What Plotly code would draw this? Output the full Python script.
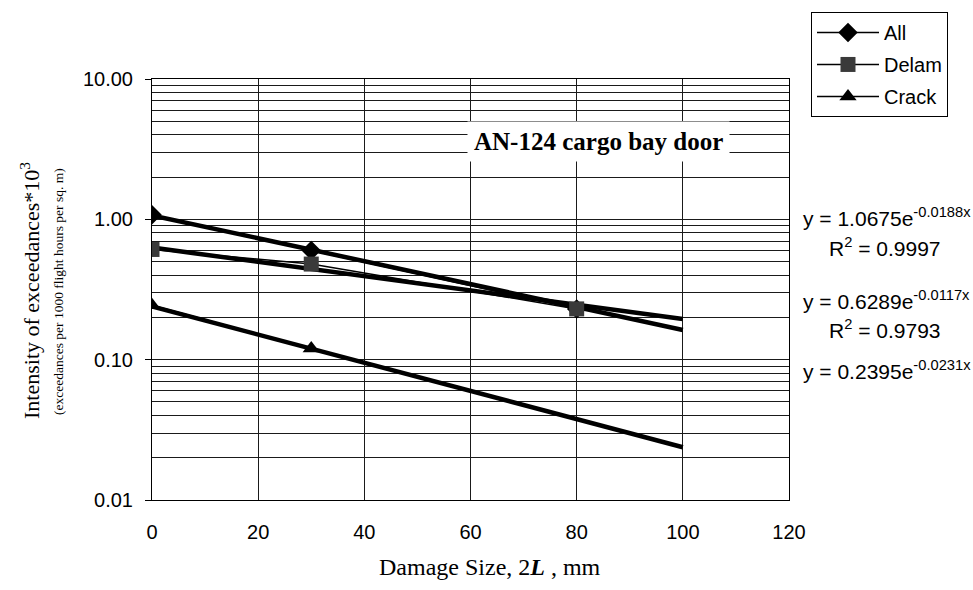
import numpy as np
import plotly.graph_objects as go

# ---- data ----
series_names = ["All", "Delam", "Crack"]
all_x = [0, 30, 80]
all_y = [1.08, 0.60, 0.23]
delam_x = [0, 30, 80]
delam_y = [0.61, 0.48, 0.23]
crack_x = [0, 30]
crack_y = [0.244, 0.12]

# exponential trendline coefficients y = a*exp(b*x), shown on the chart
trend_a = [1.0675, 0.6289, 0.2395]
trend_b = [-0.0188, -0.0117, -0.0231]
trend_r2 = ["0.9997", "0.9793", None]
trend_xmax = 100

x_ticks = [0, 20, 40, 60, 80, 100, 120]
y_ticks = [0.01, 0.1, 1, 10]
y_ticktext = ["0.01", "0.10", "1.00", "10.00"]

# ---- layout geometry (pixels) ----
W, H = 973, 590
L, R, T, B = 152, 789, 73, 500

def px_x(p):
    return (p - L) / (R - L)

def px_y(p):
    return (B - p) / (B - T)

SANS = "Arial, Liberation Sans, sans-serif"
SERIF = "Times New Roman, Liberation Serif, serif"

fig = go.Figure()

# trendlines (thick)
tx = np.linspace(0, trend_xmax, 41)
for a, b in zip(trend_a, trend_b):
    fig.add_trace(go.Scatter(x=tx, y=a * np.exp(b * tx), mode="lines",
                             line=dict(color="black", width=4.5),
                             showlegend=False, hoverinfo="skip"))

marker_syms = ["diamond", "square", "triangle-up"]
marker_cols = ["black", "#3a3a3a", "black"]
data = [(all_x, all_y), (delam_x, delam_y), (crack_x, crack_y)]
for i, (name, (xs, ys)) in enumerate(zip(series_names, data)):
    fig.add_trace(go.Scatter(x=xs, y=ys, mode="lines+markers", name=name,
                             legendgroup=name,
                             line=dict(color="black", width=1.5),
                             marker=dict(symbol=marker_syms[i], size=15,
                                         color=marker_cols[i])))

grid_col = "#1a1a1a"
minor_vals = [m * 10.0 ** e for e in (-2, -1, 0) for m in range(2, 10)]

fig.update_xaxes(range=[0, 120], tickvals=x_ticks, ticks="",
                 showgrid=True, gridcolor=grid_col, gridwidth=1,
                 showline=True, linecolor="black", linewidth=1, mirror=True,
                 zeroline=False, ticklabelstandoff=14,
                 tickfont=dict(family=SANS, size=20, color="black"))
fig.update_yaxes(type="log", range=[-2, 1], tickvals=y_ticks, ticktext=y_ticktext,
                 ticks="outside", ticklen=6, tickcolor="black",
                 showgrid=True, gridcolor=grid_col, gridwidth=1,
                 minor=dict(tickvals=minor_vals, showgrid=True, gridcolor=grid_col,
                            gridwidth=1, ticks=""),
                 showline=True, linecolor="black", linewidth=1, mirror=True,
                 zeroline=False, ticklabelstandoff=8,
                 tickfont=dict(family=SANS, size=20, color="black"))

def ann(text, xp, yp, font, **kw):
    d = dict(text=text, x=px_x(xp), y=px_y(yp), xref="paper", yref="paper",
             xanchor="center", yanchor="middle", showarrow=False, font=font)
    d.update(kw)
    return d

annotations = []
# chart title box
annotations.append(ann("<b>AN-124 cargo bay door</b>", 598, 136,
                       dict(family=SERIF, size=25, color="black"),
                       bgcolor="white", borderpad=6))
# axis titles
annotations.append(ann("Intensity of exceedances*10<sup>3</sup>", 30, 288,
                       dict(family=SERIF, size=22, color="black"), textangle=-90))
annotations.append(ann("(exceedances per 1000 flight hours per sq. m)", 59, 288,
                       dict(family=SERIF, size=13.5, color="black"), textangle=-90))
annotations.append(ann("Damage Size, 2<b><i>L</i></b> , mm", 490, 568,
                       dict(family=SERIF, size=24, color="black")))
# trendline equations
eq_y = [213, 297, 368]
r2_y = [243, 327, None]
for a, b, r2, ey, ry in zip(trend_a, trend_b, trend_r2, eq_y, r2_y):
    annotations.append(ann(f"y = {a:.4f}e<sup>{b:.4f}x</sup>", 887, ey,
                           dict(family=SANS, size=21, color="black")))
    if r2 is not None:
        annotations.append(ann(f"R<sup>2</sup> = {r2}", 885, ry,
                               dict(family=SANS, size=21, color="black")))

fig.update_layout(
    width=W, height=H,
    margin=dict(l=L, r=W - R, t=T, b=H - B),
    paper_bgcolor="white", plot_bgcolor="white",
    showlegend=True,
    legend=dict(x=px_x(811), y=px_y(5), xanchor="left", yanchor="top",
                bgcolor="white", bordercolor="black", borderwidth=1,
                font=dict(family=SANS, size=20, color="black"),
                itemwidth=62, traceorder="grouped", tracegroupgap=3),
    annotations=annotations,
)

fig.write_html("out.html")
